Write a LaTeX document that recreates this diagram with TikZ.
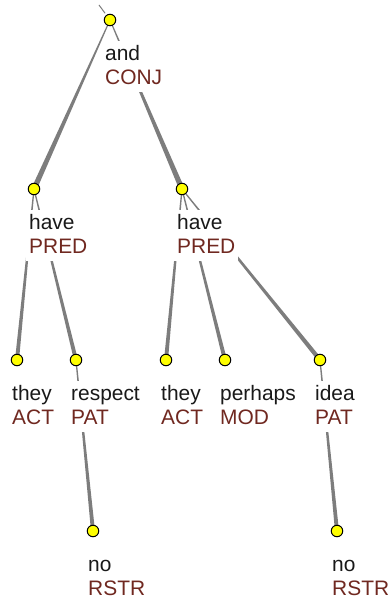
\documentclass[tikz,border=0pt]{standalone}
\usepackage{fontspec}
\setmainfont{Liberation Sans}
\usetikzlibrary{calc}
\definecolor{edgegray}{RGB}{125,125,125}
\definecolor{lab}{RGB}{112,40,32}
\definecolor{wordc}{RGB}{25,25,25}
\definecolor{dotyellow}{RGB}{255,255,0}
\newcommand{\taper}[4]{%
  \fill[edgegray] ($(#1.center)!#3!90:(#2.center)$) -- ($(#2.center)!#4!-90:(#1.center)$)
    -- ($(#2.center)!#4!90:(#1.center)$) -- ($(#1.center)!#3!-90:(#2.center)$) -- cycle;}
\newcommand{\tw}[2]{\rule{0pt}{16bp}#1\\\textcolor{lab}{#2}\rule[-5bp]{0pt}{5bp}}
\tikzset{
  dot/.style={circle, draw=black, fill=dotyellow, line width=1bp, minimum size=11.5bp, inner sep=0pt},
  lbl/.style={anchor=north west, inner sep=3bp, fill=white, align=left,
    font=\fontsize{21}{24}\selectfont, text=wordc},
}
\begin{document}
\begin{tikzpicture}[x=1bp,y=-1bp]
\fill[white] (0,0) rectangle (390,599);
\useasboundingbox (0,0) rectangle (390,599);
% node positions
\coordinate (root) at (99,5);
\coordinate (and) at (110,20);
\coordinate (h1) at (34,189);
\coordinate (h2) at (182,189);
\coordinate (t1) at (17,360);
\coordinate (re) at (76,360);
\coordinate (t2) at (166,360);
\coordinate (pe) at (225,360);
\coordinate (id) at (320,360);
\coordinate (n1) at (93,531);
\coordinate (n2) at (337,531);
% edges
\draw[edgegray, line width=1bp] (root) -- ($(root)!0.55!(and)$);
\taper{and}{h1}{0.5bp}{2.7bp}
\taper{and}{h2}{0.5bp}{2.7bp}
\taper{h1}{t1}{0.6bp}{2.0bp}
\taper{h1}{re}{0.6bp}{2.0bp}
\taper{h2}{t2}{0.6bp}{2.0bp}
\taper{h2}{pe}{0.6bp}{2.0bp}
\taper{h2}{id}{0.6bp}{2.2bp}
\taper{re}{n1}{0.6bp}{2.0bp}
\taper{id}{n2}{0.6bp}{2.0bp}
% labels
\node[lbl] (landl) at ($(and)+(-8,21)$) {\tw{and}{CONJ}};
\node[lbl] (lh1) at ($(h1)+(-8,21)$) {\tw{have}{PRED}};
\node[lbl] (lh2) at ($(h2)+(-8,21)$) {\tw{have}{PRED}};
\node[lbl] (lt1) at ($(t1)+(-8,21)$) {\tw{they}{ACT}};
\node[lbl] (lre) at ($(re)+(-8,21)$) {\tw{respect}{PAT}};
\node[lbl] (lt2) at ($(t2)+(-8,21)$) {\tw{they}{ACT}};
\node[lbl] (lpe) at ($(pe)+(-8,21)$) {\tw{perhaps}{MOD}};
\node[lbl] (lid) at ($(id)+(-8,21)$) {\tw{idea}{PAT}};
\node[lbl] (ln1) at ($(n1)+(-8,21)$) {\tw{no}{RSTR}};
\node[lbl] (ln2) at ($(n2)+(-8,21)$) {\tw{no}{RSTR}};
% dots
\foreach \p in {and,h1,h2,t1,re,t2,pe,id,n1,n2}
  \node[dot] (d\p) at (\p) {};
\end{tikzpicture}
\end{document}
